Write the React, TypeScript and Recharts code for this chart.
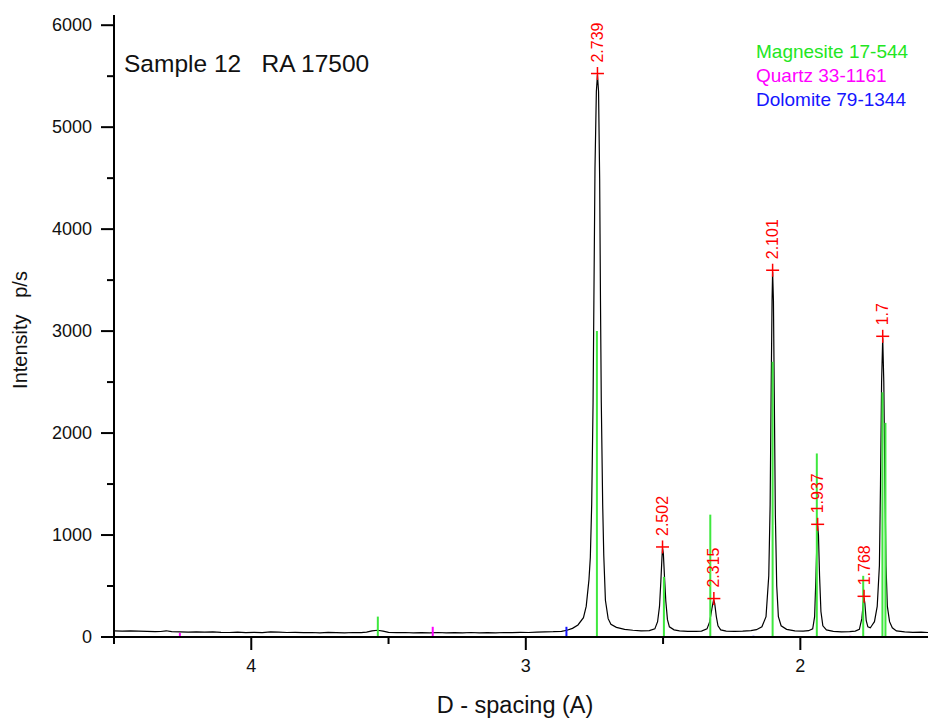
import {
  ComposedChart,
  Line,
  XAxis,
  YAxis,
  Scatter,
  ReferenceLine,
  Customized,
} from "recharts";

// measured scan: [d-spacing (A), intensity (p/s)]
const scan: [number, number][] = [
  [4.5, 60], [4.47, 58], [4.44, 60], [4.41, 57], [4.38, 55], [4.35, 52],
  [4.33, 54], [4.31, 61], [4.29, 52], [4.26, 50], [4.23, 48], [4.2, 51],
  [4.17, 47], [4.14, 50], [4.11, 46], [4.08, 44], [4.05, 47], [4.02, 42],
  [3.99, 45], [3.96, 43], [3.93, 50], [3.9, 47], [3.87, 44], [3.84, 46],
  [3.81, 42], [3.78, 44], [3.75, 40], [3.72, 45], [3.69, 42], [3.66, 40],
  [3.63, 44], [3.6, 42], [3.58, 48], [3.56, 60], [3.54, 66], [3.52, 58],
  [3.5, 45], [3.47, 42], [3.44, 44], [3.41, 40], [3.38, 43], [3.35, 41],
  [3.32, 44], [3.29, 40], [3.26, 43], [3.23, 41], [3.2, 44], [3.17, 40],
  [3.14, 43], [3.11, 41], [3.08, 44], [3.05, 42], [3.02, 45], [2.99, 44],
  [2.96, 47], [2.93, 50], [2.9, 52], [2.87, 56], [2.85, 66], [2.83, 85],
  [2.81, 118], [2.79, 190], [2.78, 300], [2.77, 560], [2.765, 780],
  [2.76, 1300], [2.755, 2300], [2.752, 3300], [2.748, 4600], [2.743, 5350],
  [2.739, 5510], [2.735, 5350], [2.731, 4500], [2.728, 3300], [2.725, 2300],
  [2.72, 1300], [2.716, 800], [2.71, 360], [2.7, 180], [2.69, 125],
  [2.67, 95], [2.64, 75], [2.61, 66], [2.58, 60], [2.55, 62], [2.53, 80],
  [2.52, 150], [2.513, 300], [2.508, 550], [2.504, 780], [2.502, 870],
  [2.499, 820], [2.495, 600], [2.49, 350], [2.484, 170], [2.477, 100],
  [2.46, 70], [2.44, 60], [2.41, 56], [2.38, 55], [2.36, 58], [2.34, 80],
  [2.33, 150], [2.322, 280], [2.316, 365], [2.312, 330], [2.306, 200],
  [2.3, 110], [2.29, 70], [2.27, 58], [2.24, 55], [2.21, 57], [2.18, 62],
  [2.16, 72], [2.14, 100], [2.125, 200], [2.115, 600], [2.11, 1300],
  [2.106, 2500], [2.103, 3300], [2.101, 3580], [2.098, 3300], [2.095, 2400],
  [2.091, 1200], [2.086, 500], [2.08, 200], [2.07, 110], [2.05, 75],
  [2.02, 60], [1.99, 58], [1.97, 62], [1.955, 80], [1.948, 200],
  [1.943, 600], [1.939, 1000], [1.937, 1090], [1.934, 1000], [1.93, 600],
  [1.925, 250], [1.918, 110], [1.905, 70], [1.88, 55], [1.85, 50],
  [1.82, 52], [1.8, 58], [1.785, 75], [1.776, 180], [1.771, 330],
  [1.768, 385], [1.765, 330], [1.76, 160], [1.754, 100], [1.745, 90],
  [1.74, 110], [1.73, 150], [1.72, 300], [1.712, 700], [1.708, 1500],
  [1.704, 2500], [1.7, 2930], [1.696, 2500], [1.692, 1500], [1.688, 700],
  [1.683, 300], [1.675, 150], [1.665, 90], [1.65, 60], [1.62, 50],
  [1.59, 45], [1.56, 47], [1.535, 44],
];

// reference patterns: [d, stick height]
const magnesite: [number, number][] = [
  [3.539, 200], [2.741, 3000], [2.497, 590], [2.328, 1200], [2.101, 2700],
  [1.94, 1800], [1.771, 600], [1.701, 2400], [1.69, 2100],
];
const quartz: [number, number][] = [
  [4.26, 40], [3.339, 100], [2.462, 10], [2.28, 10], [2.24, 8], [2.13, 8],
  [1.818, 12], [1.539, 10],
];
const dolomite: [number, number][] = [
  [3.659, 6], [2.852, 100], [2.389, 8], [2.171, 12], [2.0, 8], [1.774, 10],
  [1.769, 10],
];

// labelled peaks: [d, intensity, label]
const peaks: [number, number, string][] = [
  [2.739, 5526, "2.739"],
  [2.502, 883, "2.502"],
  [2.315, 377, "2.315"],
  [2.101, 3597, "2.101"],
  [1.937, 1105, "1.937"],
  [1.768, 399, "1.768"],
  [1.7, 2949, "1.7"],
];

const xTicks = [2, 2.5, 3, 3.5, 4, 4.5];
const yTicks = [0, 500, 1000, 1500, 2000, 2500, 3000, 3500, 4000, 4500, 5000, 5500, 6000];

const legendItems = [
  { name: "Magnesite 17-544", color: "#22e622" },
  { name: "Quartz 33-1161", color: "#ff00ff" },
  { name: "Dolomite 79-1344", color: "#1515ff" },
];

const scanData = scan.map(([d, c]) => ({ d, c }));
const peakData = peaks.map(([d, c, label]) => ({ d, c, label }));

const FONT = "'Liberation Sans', Arial, sans-serif";

function XTick(props: any) {
  const { x, y, payload } = props;
  const major = Number.isInteger(payload.value);
  const axisY = y - 17;
  return (
    <g>
      <line x1={x} x2={x} y1={axisY} y2={axisY + (major ? 13 : 7)} stroke="#000" strokeWidth={2} />
      {major && (
        <text x={x} y={axisY + 35} textAnchor="middle" fontSize={18} fontFamily={FONT} fill="#111">
          {payload.value}
        </text>
      )}
    </g>
  );
}

function YTick(props: any) {
  const { x, y, payload } = props;
  const major = payload.value % 1000 === 0;
  const axisX = x + 22;
  return (
    <g>
      <line x1={axisX - (major ? 13 : 7)} x2={axisX} y1={y} y2={y} stroke="#000" strokeWidth={2} />
      {major && (
        <text x={axisX - 22} y={y} dy="0.35em" textAnchor="end" fontSize={18} fontFamily={FONT} fill="#111">
          {payload.value}
        </text>
      )}
    </g>
  );
}

function PeakMark(props: any) {
  const { cx, cy, payload } = props;
  return (
    <g>
      <line x1={cx - 6.5} x2={cx + 6.5} y1={cy} y2={cy} stroke="#ff0000" strokeWidth={1.5} />
      <line x1={cx} x2={cx} y1={cy - 6.5} y2={cy + 6.5} stroke="#ff0000" strokeWidth={1.5} />
      <text
        x={cx + 5.5}
        y={cy - 11}
        transform={`rotate(-90 ${cx + 5.5} ${cy - 11})`}
        fontSize={16}
        fontFamily={FONT}
        fill="#ff0000"
      >
        {payload.label}
      </text>
    </g>
  );
}

function Annotations() {
  return (
    <g fontFamily={FONT}>
      <text x={124} y={72} fontSize={24.5} fill="#111" xmlSpace="preserve">
        Sample 12   RA 17500
      </text>
      {legendItems.map((item, i) => (
        <text key={item.name} x={756} y={58 + i * 24} fontSize={19} fill={item.color}>
          {item.name}
        </text>
      ))}
      <text x={515} y={713} textAnchor="middle" fontSize={23.5} fill="#111">
        D - spacing (A)
      </text>
      <text
        x={27}
        y={330}
        transform="rotate(-90 27 330)"
        textAnchor="middle"
        fontSize={20}
        fill="#111"
        xmlSpace="preserve"
      >
        Intensity   p/s
      </text>
    </g>
  );
}

export default function App() {
  return (
    <div style={{ position: "absolute", left: 0, top: 0, width: 928, height: 719, background: "#fff" }}>
      <ComposedChart width={928} height={719} margin={{ top: 15, right: 0, bottom: 0, left: 0 }}>
        <XAxis
          dataKey="d"
          type="number"
          domain={[1.535, 4.5]}
          reversed
          allowDataOverflow
          ticks={xTicks}
          interval={0}
          tick={<XTick />}
          tickLine={false}
          tickSize={13}
          tickMargin={4}
          height={82}
          axisLine={{ stroke: "#000", strokeWidth: 2 }}
        />
        <YAxis
          type="number"
          domain={[0, 6100]}
          allowDataOverflow
          ticks={yTicks}
          interval={0}
          tick={<YTick />}
          tickLine={false}
          tickSize={13}
          tickMargin={9}
          width={114}
          axisLine={{ stroke: "#000", strokeWidth: 2 }}
        />
        <Line
          data={scanData}
          dataKey="c"
          type="linear"
          stroke="#000"
          strokeWidth={1.2}
          dot={false}
          isAnimationActive={false}
        />
        {magnesite.map(([d, h]) => (
          <ReferenceLine key={`m${d}`} segment={[{ x: d, y: 0 }, { x: d, y: h }]} stroke="#3ee83e" strokeWidth={2} />
        ))}
        {quartz.map(([d, h]) => (
          <ReferenceLine key={`q${d}`} segment={[{ x: d, y: 0 }, { x: d, y: h }]} stroke="#ff00ff" strokeWidth={2} />
        ))}
        {dolomite.map(([d, h]) => (
          <ReferenceLine key={`dl${d}`} segment={[{ x: d, y: 0 }, { x: d, y: h }]} stroke="#1515ff" strokeWidth={2} />
        ))}
        <Scatter data={peakData} dataKey="c" shape={<PeakMark />} isAnimationActive={false} />
        <Customized component={Annotations} />
      </ComposedChart>
    </div>
  );
}
